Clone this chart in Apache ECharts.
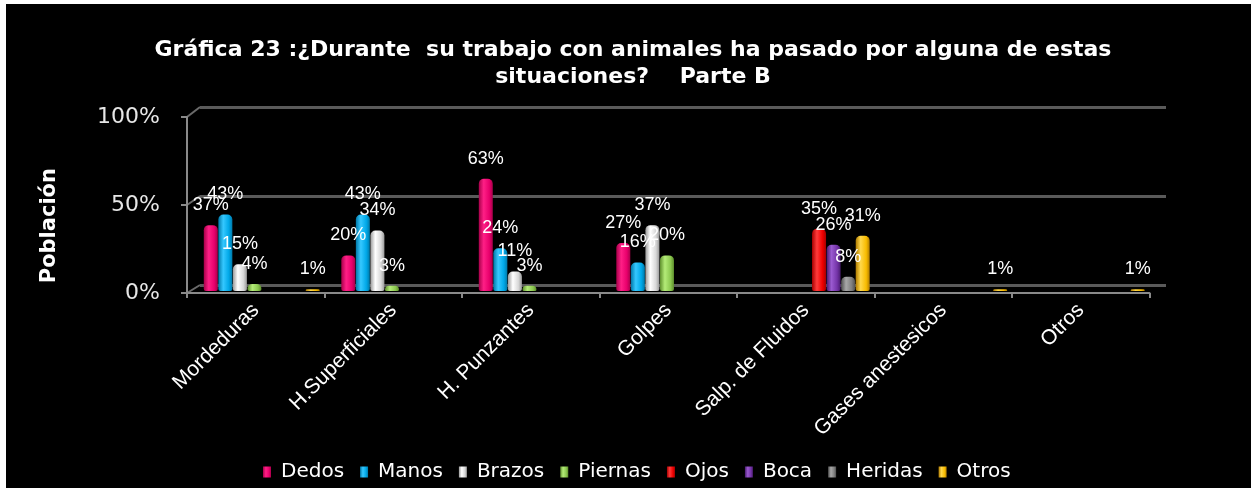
<!DOCTYPE html>
<html>
<head>
<meta charset="utf-8">
<script src="https://cdn.jsdelivr.net/npm/echarts@6/dist/echarts.min.js"></script>
<style>
html,body{margin:0;padding:0;background:#ffffff;}
#chart{position:absolute;left:6px;top:4px;width:1245px;height:484px;background:#000;}
</style>
</head>
<body>
<div id="chart"></div>
<script>
const categories = ['Mordeduras','H.Superficiales','H. Punzantes','Golpes','Salp. de Fluidos','Gases anestesicos','Otros'];
const seriesNames = ['Dedos','Manos','Brazos','Piernas','Ojos','Boca','Heridas','Otros'];
const dedos   = [37, 20, 63, 27, null, null, null];
const manos   = [43, 43, 24, 16, null, null, null];
const brazos  = [15, 34, 11, 37, null, null, null];
const piernas = [4, 3, 3, 20, null, null, null];
const ojos    = [null, null, null, null, 35, null, null];
const boca    = [null, null, null, null, 26, null, null];
const heridas = [null, null, null, null, 8, null, null];
const otros   = [1, null, null, null, 31, 1, 1];
const yTicks = [0, 50, 100];

const seriesData = [dedos, manos, brazos, piernas, ojos, boca, heridas, otros];
const colors = [
  ['#a8004a','#ff1f86','#e8006c'],
  ['#0078a8','#35c8ff','#00a8e8'],
  ['#9a9a9a','#ffffff','#d8d8d8'],
  ['#5e8f2c','#b4ec78','#8cc850'],
  ['#a80000','#ff3b3b','#ee0000'],
  ['#4a1c70','#9a5ad0','#7434a8'],
  ['#505050','#a8a8a8','#808080'],
  ['#b07c00','#ffd84a','#f8bc00']
];
function grad(c){
  return new echarts.graphic.LinearGradient(0,0,1,0,[
    {offset:0,color:c[0]},{offset:0.35,color:c[1]},{offset:0.75,color:c[2]},{offset:1,color:c[0]}
  ]);
}

const chart = echarts.init(document.getElementById('chart'));
const series = seriesNames.map((n,i)=>({
  name:n, type:'bar', xAxisIndex:0, yAxisIndex:0,
  data: seriesData[i],
  barWidth:14, barGap:'4%',
  itemStyle:{color:grad(colors[i]), borderRadius:[5,5,2,2]},
  label:{show:true, position:'top', distance:11, color:'#ffffff',
    fontFamily:'Liberation Sans', fontSize:18,
    formatter:p=> p.value==null ? '' : p.value+'%'}
}));

const option = {
  backgroundColor:'#000000',
  animation:false,
  color: colors.map(c=>c[2]),
  title:{
    text:'Gráfica 23 :¿Durante  su trabajo con animales ha pasado por alguna de estas\nsituaciones?    Parte B',
    left:622, top:28, textAlign:'center',
    textStyle:{color:'#ffffff', fontFamily:'DejaVu Sans', fontWeight:'bold', fontSize:22, lineHeight:27}
  },
  legend:{
    data: seriesNames.map((n,i)=>({name:n, itemStyle:{color:grad(colors[i])}})),
    left:252, top:453, itemWidth:8, itemHeight:11, itemGap:16,
    icon:'rect',
    textStyle:{color:'#ffffff', fontFamily:'DejaVu Sans', fontSize:20, padding:[0,0,0,5]}
  },
  graphic:[
    {type:'text', left:33, top:164, rotation:Math.PI/2,
      style:{text:'Población', fill:'#ffffff', font:'bold 21px "DejaVu Sans"'}},
    {type:'polyline', shape:{points:[[181,113],[194,103]]}, style:{stroke:'#6a6a6a', lineWidth:2}},
    {type:'polyline', shape:{points:[[181,201],[194,192]]}, style:{stroke:'#6a6a6a', lineWidth:2}},
    {type:'polyline', shape:{points:[[181,289],[194,281]]}, style:{stroke:'#6a6a6a', lineWidth:2}}
  ],
  grid:[
    {left:187, right:95.5, top:109, bottom:197},
    {left:181, right:101.5, top:113, bottom:195},
    {left:194, right:85, top:103, bottom:203}
  ],
  xAxis:[
    {gridIndex:0, type:'category', data:categories, show:false},
    {gridIndex:1, type:'category', data:categories,
      axisLine:{show:true, lineStyle:{color:'#8a8a8a', width:2}},
      axisTick:{show:true, length:5, lineStyle:{color:'#8a8a8a', width:2}},
      axisLabel:{rotate:45, margin:14, color:'#ffffff', fontFamily:'Liberation Sans', fontSize:21}},
    {gridIndex:2, type:'category', data:categories, show:false}
  ],
  yAxis:[
    {gridIndex:0, type:'value', min:0, max:100, interval:50, show:false},
    {gridIndex:1, type:'value', min:0, max:100, interval:50,
      axisLine:{show:true, lineStyle:{color:'#8a8a8a', width:2}},
      axisTick:{show:true, length:6, lineStyle:{color:'#8a8a8a', width:2}},
      splitLine:{show:false},
      axisLabel:{margin:27, color:'#e6e6e6', fontFamily:'DejaVu Sans', fontSize:22,
        customValues:yTicks, formatter:v=>v+'%'}},
    {gridIndex:2, type:'value', min:0, max:100, interval:50,
      axisLine:{show:false}, axisTick:{show:false}, axisLabel:{show:false},
      splitLine:{show:true, lineStyle:{color:'#5a5a5a', width:3}}}
  ],
  series: series
};
chart.setOption(option);
</script>
</body>
</html>
